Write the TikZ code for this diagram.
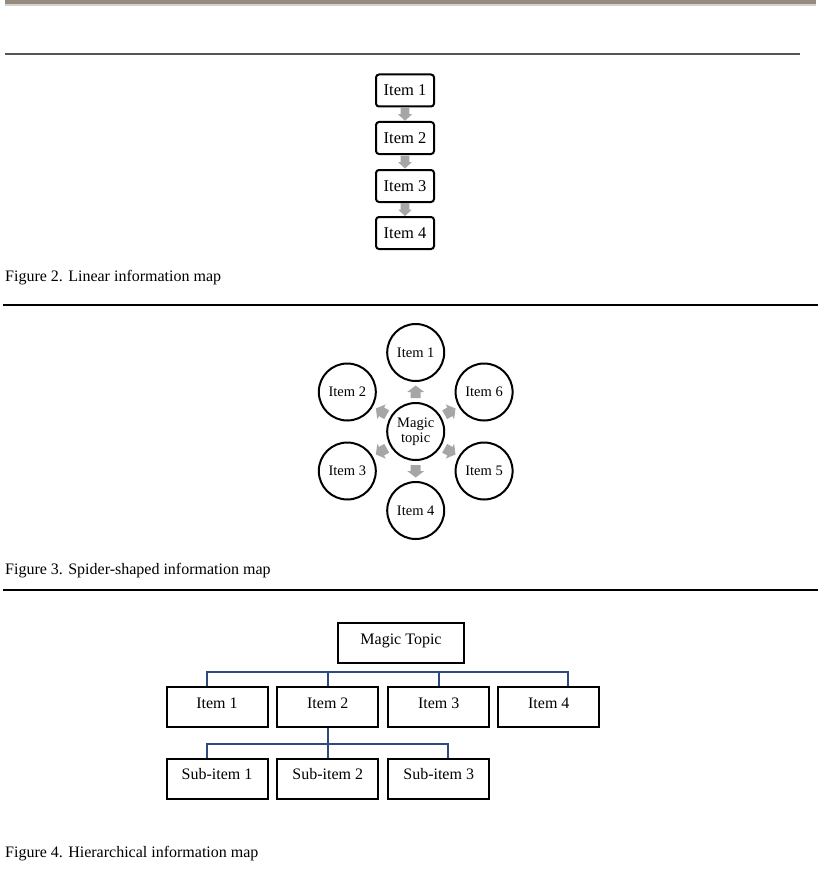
\documentclass[tikz,border=0pt]{standalone}
\usepackage{fontspec}
\setmainfont{Liberation Serif}
\usetikzlibrary{calc}
\definecolor{barbrown}{HTML}{958B7F}
\definecolor{barshadow}{HTML}{D4D2CF}
\definecolor{rulegray}{HTML}{555555}
\definecolor{arrgray}{HTML}{A6A6A6}
\definecolor{hblue}{HTML}{2F4A7D}
\tikzset{
 linbox/.style={draw, line width=2pt, rounded corners=3pt, minimum width=58pt, minimum height=32pt, inner sep=0pt, font=\fontsize{16.5}{18}\selectfont},
 spcircle/.style={draw, circle, line width=2pt, minimum size=57pt, inner sep=0pt, align=center, font=\fontsize{14.5}{15}\selectfont},
 hbox/.style={draw, line width=2pt, minimum width=101pt, minimum height=40pt, inner sep=0pt, text height=10.5pt, text depth=9pt, font=\fontsize{16}{18}\selectfont},
 conn/.style={draw=hblue, line width=2pt},
 caption/.style={anchor=west, inner sep=0pt, font=\fontsize{16}{18}\selectfont},
 linarrow/.pic={\fill[arrgray] (6.5,0) -- (0,7) -- (0,4.3) -- (-6.5,4.3) -- (-6.5,-4.3) -- (0,-4.3) -- (0,-7) -- cycle;},
 sparrow/.pic={\fill[arrgray] (6.5,0) -- (0,8.5) -- (0,5) -- (-6,5) -- (-6,-5) -- (0,-5) -- (0,-8.5) -- cycle;},
}
\begin{document}
\begin{tikzpicture}[x=1pt,y=-1pt]
\useasboundingbox (0,0) rectangle (818,872);
% header
\fill[barshadow] (5,4) rectangle (816,6);
\fill[barbrown] (5,0) rectangle (816,4.5);
\draw[rulegray, line width=1.2pt] (5,54) -- (800,54);
% Figure 2: linear
\node[linbox] (l1) at (405,90.5) {Item 1};
\node[linbox] (l2) at (405,138) {Item 2};
\node[linbox] (l3) at (405,186) {Item 3};
\node[linbox] (l4) at (405,233) {Item 4};
\pic[rotate=-90] at ($(l1.south)!0.5!(l2.north)$) {linarrow};
\pic[rotate=-90] at ($(l2.south)!0.5!(l3.north)$) {linarrow};
\pic[rotate=-90] at ($(l3.south)!0.5!(l4.north)$) {linarrow};
\node[caption] (c2) at (5,278) {Figure 2. Linear information map};
\draw[line width=2.2pt] (3,305) -- (818,305);
% Figure 3: spider
\node[spcircle] (mt) at (415.7,431.5) {Magic\\topic};
\node[spcircle] (i1) at (415.7,352.5) {Item 1};
\node[spcircle] (i2) at (347.3,392) {Item 2};
\node[spcircle] (i3) at (347.3,471) {Item 3};
\node[spcircle] (i4) at (415.7,510.5) {Item 4};
\node[spcircle] (i5) at (484.1,471) {Item 5};
\node[spcircle] (i6) at (484.1,392) {Item 6};
\pic[rotate=90] at ($(mt)!0.5!(i1)$) {sparrow};
\pic[rotate=150] at ($(mt)!0.5!(i2)$) {sparrow};
\pic[rotate=210] at ($(mt)!0.5!(i3)$) {sparrow};
\pic[rotate=270] at ($(mt)!0.5!(i4)$) {sparrow};
\pic[rotate=330] at ($(mt)!0.5!(i5)$) {sparrow};
\pic[rotate=30] at ($(mt)!0.5!(i6)$) {sparrow};
\node[caption] (c3) at (5,571) {Figure 3. Spider-shaped information map};
\draw[line width=2.2pt] (3,590) -- (818,590);
% Figure 4: hierarchical
\node[hbox, minimum width=126.6pt] (mtop) at (401,643.3) {Magic Topic};
\node[hbox] (h1) at (217,707.3) {Item 1};
\node[hbox] (h2) at (327.8,707.3) {Item 2};
\node[hbox] (h3) at (438.7,707.3) {Item 3};
\node[hbox] (h4) at (548.8,707.3) {Item 4};
\node[hbox] (s1) at (217,779) {Sub-item 1};
\node[hbox] (s2) at (327.8,779) {Sub-item 2};
\node[hbox] (s3) at (438.7,779) {Sub-item 3};
\coordinate (bar1) at (0,672);
\coordinate (bar2) at (0,744);
\coordinate (h1c) at ([xshift=-9.7pt]h1.north);
\coordinate (h4c) at ([xshift=19.5pt]h4.north);
\coordinate (s1c) at ([xshift=-9.7pt]s1.north);
\coordinate (s3c) at ([xshift=9pt]s3.north);
\draw[conn] (h1c) |- (h4c |- bar1) -- (h4c);
\draw[conn] (h2.north) -- (h2.north |- bar1);
\draw[conn] (h3.north) -- (h3.north |- bar1);
\draw[conn] (s1c) |- (s3c |- bar2) -- (s3c);
\draw[conn] (h2.south) -- (s2.north);
\node[caption] (c4) at (5,854) {Figure 4. Hierarchical information map};
\end{tikzpicture}
\end{document}
